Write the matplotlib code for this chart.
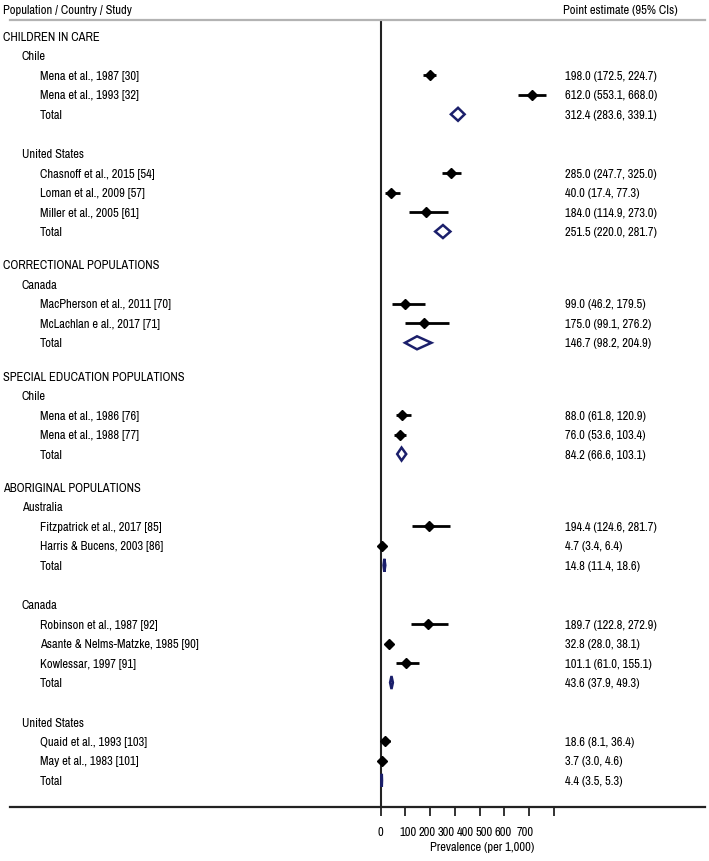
import numpy as np
import matplotlib
matplotlib.use('Agg')
import matplotlib.pyplot as plt
import matplotlib.transforms as mtrans
from matplotlib.patches import Polygon

#--------------------------------------------
# data (row by row, top to bottom)
# kinds: G = population, C = country, S = study, T = pooled total,
#        b = blank row inside a population, g = gap between populations
row_kind = ['G', 'C', 'S', 'S', 'T', 'b', 'C', 'S', 'S', 'S', 'T', 'g',
            'G', 'C', 'S', 'S', 'T', 'g',
            'G', 'C', 'S', 'S', 'T', 'g',
            'G', 'C', 'S', 'S', 'T', 'b', 'C', 'S', 'S', 'S', 'T', 'b',
            'C', 'S', 'S', 'T']
row_label = ['CHILDREN IN CARE', 'Chile', 'Mena et al., 1987 [30]', 'Mena et al., 1993 [32]', 'Total', '',
             'United States', 'Chasnoff et al., 2015 [54]', 'Loman et al., 2009 [57]',
             'Miller et al., 2005 [61]', 'Total', '',
             'CORRECTIONAL POPULATIONS', 'Canada', 'MacPherson et al., 2011 [70]',
             'McLachlan e al., 2017 [71]', 'Total', '',
             'SPECIAL EDUCATION POPULATIONS', 'Chile', 'Mena et al., 1986 [76]',
             'Mena et al., 1988 [77]', 'Total', '',
             'ABORIGINAL POPULATIONS', 'Australia', 'Fitzpatrick et al., 2017 [85]',
             'Harris & Bucens, 2003 [86]', 'Total', '',
             'Canada', 'Robinson et al., 1987 [92]', 'Asante & Nelms-Matzke, 1985 [90]',
             'Kowlessar, 1997 [91]', 'Total', '',
             'United States', 'Quaid et al., 1993 [103]', 'May et al., 1983 [101]', 'Total']
nan = np.nan
point = [nan, nan, 198.0, 612.0, 312.4, nan, nan, 285.0, 40.0, 184.0, 251.5, nan,
         nan, nan, 99.0, 175.0, 146.7, nan,
         nan, nan, 88.0, 76.0, 84.2, nan,
         nan, nan, 194.4, 4.7, 14.8, nan, nan, 189.7, 32.8, 101.1, 43.6, nan,
         nan, 18.6, 3.7, 4.4]
ci_low = [nan, nan, 172.5, 553.1, 283.6, nan, nan, 247.7, 17.4, 114.9, 220.0, nan,
          nan, nan, 46.2, 99.1, 98.2, nan,
          nan, nan, 61.8, 53.6, 66.6, nan,
          nan, nan, 124.6, 3.4, 11.4, nan, nan, 122.8, 28.0, 61.0, 37.9, nan,
          nan, 8.1, 3.0, 3.5]
ci_high = [nan, nan, 224.7, 668.0, 339.1, nan, nan, 325.0, 77.3, 273.0, 281.7, nan,
           nan, nan, 179.5, 276.2, 204.9, nan,
           nan, nan, 120.9, 103.4, 103.1, nan,
           nan, nan, 281.7, 6.4, 18.6, nan, nan, 272.9, 38.1, 155.1, 49.3, nan,
           nan, 36.4, 4.6, 5.3]
xticks = [0, 100, 200, 300, 400, 500, 600, 700]
xticklabel_pos = [0, 109, 186, 263, 341, 418, 496, 584]   # labels sit off the ticks in the original
xticklabels = ['0', '100', '200', '300', '400', '500', '600', '700']
xlabel = 'Prevalence (per 1,000)'
#--------------------------------------------

W, H = 709, 862
navy = '#1b1f6b'
plt.rcParams['font.family'] = ['Archivo Narrow', 'Liberation Sans', 'DejaVu Sans']
fs = 9

fig = plt.figure(figsize=(W / 100, H / 100), dpi=100)
ax_top, ax_bot = 20.5, 807.5
ax = fig.add_axes([10 / W, 1 - ax_bot / H, 695 / W, (ax_bot - ax_top) / H])
px_per_unit = 0.2475
ax.set_xlim((10 - 380.7) / px_per_unit, (705 - 380.7) / px_per_unit)
ax.set_ylim(ax_bot, ax_top)   # y in pixel rows, top to bottom

# row positions
step, gap_b, gap_g = 19.45, 20.0, 14.0
ys = []
y = 37.5
prev = None
for k in row_kind:
    if k == 'b':
        y += gap_b
        ys.append(nan)
        continue
    if k == 'g':
        y += gap_g
        ys.append(nan)
        continue
    if prev is not None:
        y += step
    ys.append(y)
    prev = k
ys = np.array(ys)

trans = mtrans.blended_transform_factory(fig.transFigure, ax.transData)
indent = {'G': 3, 'C': 22, 'S': 40, 'T': 40}
for k, lab, yy, p, lo, hi in zip(row_kind, row_label, ys, point, ci_low, ci_high):
    if k in 'bg':
        continue
    ax.text(indent[k] / W, yy, lab, transform=trans, ha='left', va='center',
            fontsize=fs, clip_on=False)
    if k == 'S':
        ax.hlines(yy, lo, hi, color='black', lw=2.0, zorder=3)
        ax.plot(p, yy, marker='D', color='black', ms=5.5, mec='black', zorder=4)
    if k == 'T':
        dh = 6.5
        ax.add_patch(Polygon([(lo, yy), (p, yy - dh), (hi, yy), (p, yy + dh)],
                             closed=True, facecolor='white', edgecolor=navy,
                             lw=1.8, zorder=4))
    if k in 'ST':
        ax.text(565 / W, yy, f'{p:.1f} ({lo:.1f}, {hi:.1f})', transform=trans,
                ha='left', va='center', fontsize=fs, clip_on=False)

# headers
fig.text(3 / W, 1 - 10 / H, 'Population / Country / Study', ha='left', va='center', fontsize=fs)
fig.text(563 / W, 1 - 10 / H, 'Point estimate (95% CIs)', ha='left', va='center', fontsize=fs)

# reference line at zero
ax.axvline(0, color='#222222', lw=1.5, zorder=2)

# spines
for s in ['left', 'right']:
    ax.spines[s].set_visible(False)
ax.spines['top'].set_color('#b3b3b3')
ax.spines['top'].set_linewidth(1.6)
ax.spines['bottom'].set_color('#222222')
ax.spines['bottom'].set_linewidth(1.6)

ax.set_yticks([])
ax.set_xticks(xticks)
ax.set_xticklabels([''] * len(xticks))
ax.tick_params(axis='x', which='major', direction='out', length=6.5, width=1.3, color='#222222')
ax.xaxis.remove_overlapping_locs = False
ax.set_xticks(xticklabel_pos, minor=True)
ax.set_xticklabels(xticklabels, minor=True, fontsize=fs)
ax.tick_params(axis='x', which='minor', length=0, pad=14)
ax.set_xlabel(xlabel, fontsize=fs, x=(482 - 10) / 695, ha='center', labelpad=3)

fig.savefig('out.png', dpi=100)
